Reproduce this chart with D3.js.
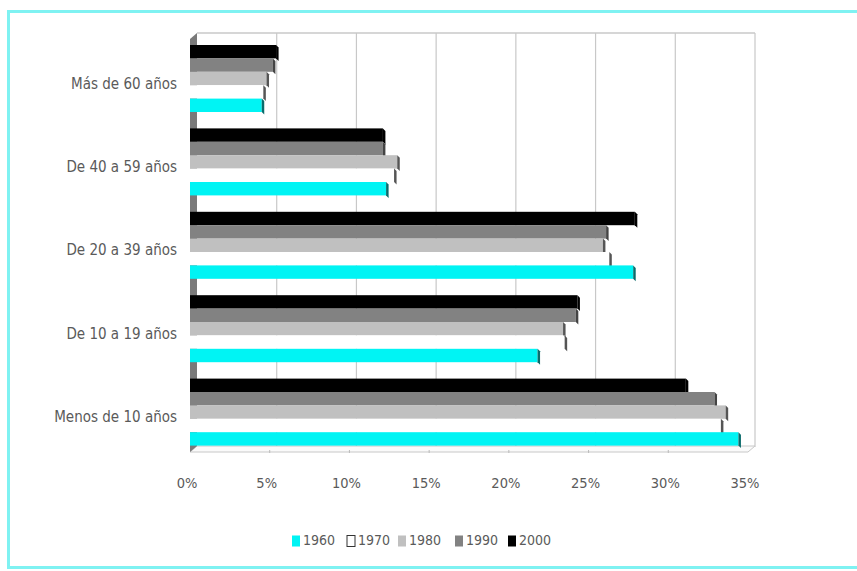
<!DOCTYPE html>
<html><head><meta charset="utf-8">
<script src="https://cdn.jsdelivr.net/npm/d3@7"></script>
<style>body{margin:0;background:#fff}svg{display:block}</style>
</head><body>
<svg id="c" width="857" height="571"></svg>
<script>
const categories = ["Más de 60 años","De 40 a 59 años","De 20 a 39 años","De 10 a 19 años","Menos de 10 años"];
const seriesNames = ["1960","1970","1980","1990","2000"];
const v1960 = [4.5, 12.3, 27.8, 21.8, 34.4];
const v1970 = [4.6, 12.8, 26.3, 23.5, 33.3];
const v1980 = [4.8, 13.0, 25.9, 23.4, 33.6];
const v1990 = [5.2, 12.1, 26.1, 24.2, 32.9];
const v2000 = [5.4, 12.1, 27.9, 24.3, 31.1];
const tickValues = [0,5,10,15,20,25,30,35];
const colors = {"1960":"#00f4f4","1970":"#ffffff","1980":"#c0c0c0","1990":"#828282","2000":"#000000"};
const sideColors = {"1960":"#0a6b6b","1970":"#555555","1980":"#555555","1990":"#444444","2000":"#000000"};
const values = {"1960":v1960,"1970":v1970,"1980":v1980,"1990":v1990,"2000":v2000};

const svg = d3.select("#c");
const font = "'DejaVu Sans Condensed', 'Open Sans', sans-serif";
svg.append("rect").attr("x",8.5).attr("y",11.5).attr("width",870).attr("height",556)
  .attr("fill","none").attr("stroke","#7ff2f2").attr("stroke-width",3);

const x = d3.scaleLinear().domain([0,35]).range([190,748]);
const y = d3.scaleBand().domain(categories).range([33,450]);
const inner = d3.scaleBand().domain(["2000","1990","1980","1970","1960"]).range([12,79]);
const depth = 7;

const g = svg.append("g");
g.selectAll("line.grid").data(tickValues.slice(1)).join("line")
  .attr("x1",d=>x(d)+depth).attr("x2",d=>x(d)+depth)
  .attr("y1",33).attr("y2",447)
  .attr("stroke","#c8c8c8").attr("stroke-width",1.2);
g.append("line").attr("x1",x(0)+depth).attr("x2",x(35)+depth).attr("y1",33).attr("y2",33)
  .attr("stroke","#c8c8c8").attr("stroke-width",1.5);
g.append("path").attr("d",`M${x(0)},452 L${x(0)+depth},446 L${x(35)+depth},446 L${x(35)},452 Z`)
  .attr("fill","#fafafa").attr("stroke","#c8c8c8").attr("stroke-width",1);
g.append("path").attr("d",`M${x(0)},39 L${x(0)+depth},33 L${x(0)+depth},446 L${x(0)},452 Z`)
  .attr("fill","#7a7a7a");
g.selectAll("line.tk").data(tickValues.slice(1,7)).join("line")
  .attr("x1",d=>x(d)).attr("x2",d=>x(d)).attr("y1",450).attr("y2",453)
  .attr("stroke","#bbb");

const order = ["2000","1990","1980","1970","1960"];
categories.forEach((cat,i)=>{
  order.forEach(s=>{
    const v = values[s][i];
    const y0 = y(cat)+inner(s), h = inner.bandwidth();
    const x1 = x(v);
    svg.append("rect").attr("x",x(0)).attr("y",y0).attr("width",x1-x(0)).attr("height",h)
      .attr("fill",colors[s]);
    svg.append("path").attr("d",`M${x1},${y0} L${x1+2.5},${y0+2.5} L${x1+2.5},${y0+h+2.5} L${x1},${y0+h} Z`)
      .attr("fill",sideColors[s]);
  });
});

svg.selectAll("text.cat").data(categories).join("text")
  .attr("x",177).attr("y",d=>y(d)+51)
  .attr("text-anchor","end").attr("dominant-baseline","middle")
  .attr("font-family",font).attr("font-size",15).attr("fill","#5a5a5a")
  .text(d=>d);

svg.selectAll("text.tick").data(tickValues).join("text")
  .attr("x",d=>x(d)-3).attr("y",484)
  .attr("text-anchor","middle").attr("dominant-baseline","middle")
  .attr("font-family",font).attr("font-size",14.5).attr("fill","#5a5a5a")
  .text(d=>d+"%");

const legX = [292,347,398,455,508];
seriesNames.forEach((s,i)=>{
  const lg = svg.append("g").attr("transform",`translate(${legX[i]},541)`);
  lg.append("rect").attr("x",0).attr("y",-5.5).attr("width",8).attr("height",11)
    .attr("fill",colors[s]).attr("stroke",s==="1970"?"#333":"none").attr("stroke-width",1);
  lg.append("text").attr("x",11).attr("y",0).attr("dominant-baseline","middle")
    .attr("font-family",font).attr("font-size",14).attr("fill","#5a5a5a").text(s);
});
</script>
</body></html>
